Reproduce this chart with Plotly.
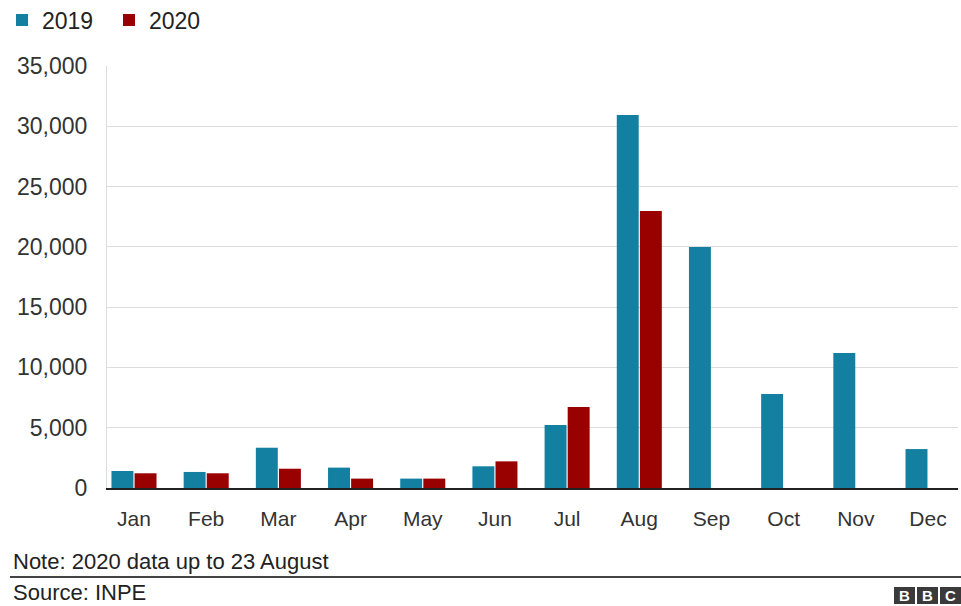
import plotly.graph_objects as go

months = ["Jan", "Feb", "Mar", "Apr", "May", "Jun", "Jul", "Aug", "Sep", "Oct", "Nov", "Dec"]
fires_2019 = [1410, 1330, 3340, 1690, 780, 1800, 5220, 30930, 19980, 7800, 11190, 3230]
fires_2020 = [1220, 1220, 1600, 780, 780, 2210, 6720, 22970, None, None, None, None]
y_ticks = [0, 5000, 10000, 15000, 20000, 25000, 30000, 35000]

C2019 = "#1380A1"
C2020 = "#990000"
FONT = "Liberation Sans, Arial, sans-serif"

x_idx = list(range(len(months)))

fig = go.Figure()
fig.add_trace(go.Bar(x=x_idx, y=fires_2019, name="2019", marker=dict(color=C2019, line=dict(width=0))))
fig.add_trace(go.Bar(x=x_idx, y=fires_2020, name="2020", marker=dict(color=C2020, line=dict(width=0))))

W, H = 961, 606
L, R, T, B = 107, 3, 66, 118


def px_x(p):
    return (p - L) / (W - L - R)


def px_y(p):
    return (H - B - p) / (H - T - B)


fig.update_layout(
    width=W, height=H,
    margin=dict(l=L, r=R, t=T, b=B, pad=0, autoexpand=False),
    paper_bgcolor="white", plot_bgcolor="white",
    barmode="group", bargap=0.36, bargroupgap=0.05,
    font=dict(family=FONT, color="#222222"),
    showlegend=True,
    legend=dict(orientation="h", x=px_x(2), xanchor="left", y=px_y(20), yanchor="middle",
                font=dict(size=23, color="#222222"), itemwidth=30, traceorder="normal",
                entrywidth=62, entrywidthmode="pixels",
                tracegroupgap=0, bgcolor="rgba(0,0,0,0)"),
)
fig.update_xaxes(
    tickmode="array", tickvals=x_idx, ticktext=months,
    range=[-0.374, 11.415],
    showgrid=False, zeroline=False,
    showline=True, linecolor="#222222", linewidth=2,
    ticks="outside", ticklen=11, tickcolor="rgba(0,0,0,0)",
    tickfont=dict(size=21, color="#333333", family=FONT),
)
fig.update_yaxes(
    range=[0, 35000], tickvals=y_ticks, tickformat=",",
    showgrid=True, gridcolor="#dddddd", gridwidth=1,
    zeroline=False, showline=True, linecolor="#dddddd", linewidth=1,
    ticks="outside", ticklen=14, tickcolor="rgba(0,0,0,0)",
    tickfont=dict(size=23, color="#333333", family=FONT),
)

# Footer
fig.add_annotation(text="Note: 2020 data up to 23 August", xref="paper", yref="paper",
                   x=px_x(11), xanchor="left",
                   y=px_y(561), yanchor="middle", showarrow=False,
                   font=dict(size=22, color="#222222", family=FONT))
fig.add_annotation(text="Source: INPE", xref="paper", yref="paper",
                   x=px_x(11), xanchor="left",
                   y=px_y(592), yanchor="middle", showarrow=False,
                   font=dict(size=22, color="#222222", family=FONT))

fig.add_shape(type="line", xref="paper", yref="paper",
              x0=px_x(10), x1=px_x(961), y0=px_y(577), y1=px_y(577),
              line=dict(color="#444444", width=2))

for i, ch in enumerate(["B", "B", "C"]):
    x0 = 894 + i * 23
    fig.add_shape(type="rect", xref="paper", yref="paper",
                  x0=px_x(x0), x1=px_x(x0 + 21), y0=px_y(604), y1=px_y(587),
                  fillcolor="#3a3a3a", line=dict(width=0))
    fig.add_annotation(text="<b>%s</b>" % ch, xref="paper", yref="paper",
                       x=px_x(x0 + 10.5), y=px_y(595.5), xanchor="center", yanchor="middle",
                       showarrow=False, font=dict(size=15, color="white", family=FONT))

fig.write_html("out.html")
